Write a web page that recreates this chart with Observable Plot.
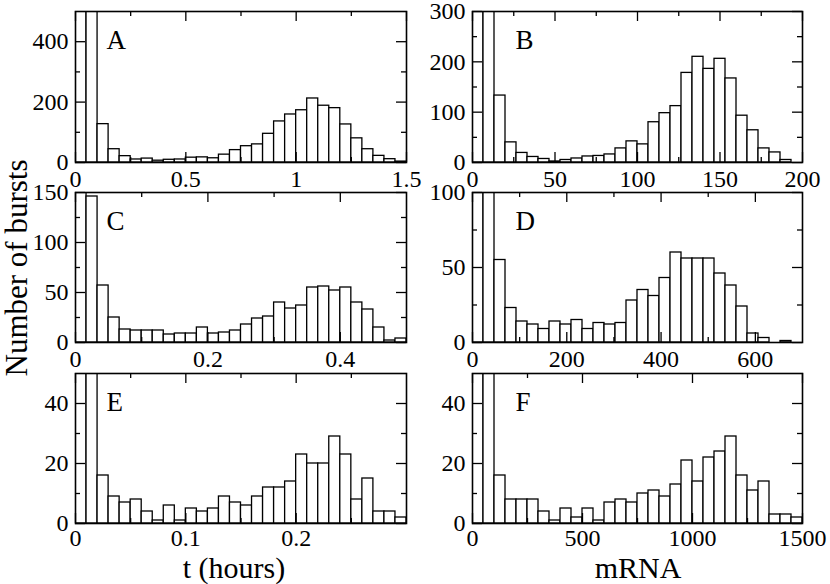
<!DOCTYPE html>
<html>
<head>
<meta charset="utf-8">
<script src="https://cdn.jsdelivr.net/npm/d3@7"></script>
<script src="https://cdn.jsdelivr.net/npm/@observablehq/plot@0.6"></script>
<style>
  body { margin: 0; background: white; }
  #wrap { position: relative; width: 830px; height: 584px; font-family: "Liberation Serif", "DejaVu Serif", serif; color: black; }
  .cell { position: absolute; }
  .title { position: absolute; font-size: 31px; line-height: 1; white-space: nowrap; transform: translate(-50%, -50%); }
  .xtitle { font-size: 30px; }
  .ytitle { transform: translate(-50%, -50%) rotate(-90deg); }
</style>
</head>
<body>
<div id="wrap"></div>
<script>
// Panel letters
const letters = ["A", "B", "C", "D", "E", "F"];

// Bin counts (30 equal bins from 0 to x max)
const countsA = [1500, 900, 127, 44, 21, 10, 13, 6, 9, 10, 16, 17, 14, 26, 41, 54, 60, 95, 136, 159, 173, 212, 188, 180, 126, 80, 44, 22, 11, 3];
const countsB = [800, 600, 133, 40, 19, 11, 7, 2, 5, 8, 12, 13, 16, 28, 42, 36, 80, 98, 112, 178, 210, 186, 206, 167, 93, 64, 28, 20, 5, 0];
const countsC = [400, 146, 57, 25, 13, 12, 12, 12, 8, 9, 9, 15, 9, 10, 12, 18, 24, 26, 40, 34, 37, 55, 56, 52, 55, 40, 33, 15, 2, 4];
const countsD = [300, 200, 55, 23, 14, 12, 9, 14, 12, 15, 9, 13, 12, 13, 28, 35, 31, 43, 60, 56, 56, 56, 46, 38, 24, 6, 3, 0, 1, 0];
const countsE = [150, 100, 16, 9, 7, 8, 4, 1, 6, 1, 5, 4, 5, 9, 7, 6, 9, 12, 12, 14, 23, 20, 20, 29, 23, 8, 15, 4, 4, 2];
const countsF = [150, 100, 16, 8, 8, 8, 4, 1, 5, 2, 5, 1, 7, 8, 7, 10, 11, 9, 13, 21, 14, 22, 24, 29, 16, 11, 14, 3, 3, 2];

// Axis extents
const xMaxes = [1.5, 200, 0.5, 700, 0.3, 1500];
const yMaxes = [500, 300, 150, 100, 50, 50];

// Tick values (labelled major ticks and minor ticks)
const xTicksA = [0, 0.5, 1, 1.5],   xMinorA = [0.25, 0.75, 1.25];
const xTicksB = [0, 50, 100, 150, 200], xMinorB = [25, 75, 125, 175];
const xTicksC = [0, 0.2, 0.4],      xMinorC = [0.1, 0.3];
const xTicksD = [0, 200, 400, 600], xMinorD = [100, 300, 500];
const xTicksE = [0, 0.1, 0.2],      xMinorE = [0.05, 0.15, 0.25];
const xTicksF = [0, 500, 1000, 1500], xMinorF = [250, 750, 1250];
const yTicksA = [0, 200, 400],      yMinorA = [100, 300];
const yTicksB = [0, 100, 200, 300], yMinorB = [50, 150, 250];
const yTicksC = [0, 50, 100, 150],  yMinorC = [25, 75, 125];
const yTicksD = [0, 50, 100],       yMinorD = [25, 75];
const yTicksE = [0, 20, 40],        yMinorE = [10, 30];
const yTicksF = [0, 20, 40],        yMinorF = [10, 30];

const xTitles = ["t (hours)", "mRNA"];
const yTitle = "Number of bursts";

const panels = [
  {counts: countsA, xTicks: xTicksA, xMinor: xMinorA, yTicks: yTicksA, yMinor: yMinorA},
  {counts: countsB, xTicks: xTicksB, xMinor: xMinorB, yTicks: yTicksB, yMinor: yMinorB},
  {counts: countsC, xTicks: xTicksC, xMinor: xMinorC, yTicks: yTicksC, yMinor: yMinorC},
  {counts: countsD, xTicks: xTicksD, xMinor: xMinorD, yTicks: yTicksD, yMinor: yMinorD},
  {counts: countsE, xTicks: xTicksE, xMinor: xMinorE, yTicks: yTicksE, yMinor: yMinorE},
  {counts: countsF, xTicks: xTicksF, xMinor: xMinorF, yTicks: yTicksF, yMinor: yMinorF}
];

const W = 415, H = 190;
const colM = [{l: 75, r: 9}, {l: 57, r: 28}];
const rowM = [{t: 11, b: 28, top: 0, pad: 7}, {t: 12, b: 28, top: 180, pad: 7}, {t: 13, b: 27, top: 360, pad: 5}];
const wrap = document.getElementById("wrap");
const FONT = "'Liberation Serif', 'DejaVu Serif', serif";

panels.forEach((p, i) => {
  const col = i % 2, row = Math.floor(i / 2);
  const m = colM[col], r = rowM[row];
  const fw = W - m.l - m.r, fh = H - r.t - r.b;
  const xMax = xMaxes[i], yMax = yMaxes[i];
  const bw = xMax / p.counts.length;
  const bins = p.counts.map((c, k) => ({x1: k * bw, x2: (k + 1) * bw, y: c}));
  const major = 10, minor = 5, sw = 1.3;
  const chart = Plot.plot({
    width: W, height: H,
    marginLeft: m.l, marginRight: m.r, marginTop: r.t, marginBottom: r.b,
    x: {domain: [0, xMax]},
    y: {domain: [0, yMax]},
    style: {fontFamily: FONT, fontSize: "24px", background: "transparent", overflow: "visible", color: "black"},
    marks: [
      Plot.rectY(bins, {x1: "x1", x2: "x2", y: "y", fill: "white", stroke: "black", strokeWidth: sw, clip: true}),
      Plot.ruleX(p.xTicks, {x: d => d, insetTop: fh - major, stroke: "black", strokeWidth: sw}),
      Plot.ruleX(p.xTicks, {x: d => d, insetBottom: fh - major, stroke: "black", strokeWidth: sw}),
      Plot.ruleX(p.xMinor, {x: d => d, insetTop: fh - minor, stroke: "black", strokeWidth: sw}),
      Plot.ruleX(p.xMinor, {x: d => d, insetBottom: fh - minor, stroke: "black", strokeWidth: sw}),
      Plot.ruleY(p.yTicks, {y: d => d, insetRight: fw - major, stroke: "black", strokeWidth: sw}),
      Plot.ruleY(p.yTicks, {y: d => d, insetLeft: fw - major, stroke: "black", strokeWidth: sw}),
      Plot.ruleY(p.yMinor, {y: d => d, insetRight: fw - minor, stroke: "black", strokeWidth: sw}),
      Plot.ruleY(p.yMinor, {y: d => d, insetLeft: fw - minor, stroke: "black", strokeWidth: sw}),
      Plot.frame({stroke: "black", strokeWidth: 1.6}),
      Plot.axisX({ticks: p.xTicks, tickSize: 0, tickPadding: r.pad, tickFormat: d => String(d), fontSize: 24, label: null}),
      Plot.axisY({ticks: p.yTicks, tickSize: 0, tickPadding: 7, tickFormat: d => String(d), fontSize: 24, label: null}),
      Plot.text([letters[i]], {text: d => d, frameAnchor: "top-left", textAnchor: "start", lineAnchor: "top", dx: col === 0 ? 31 : 43, dy: 18, fontSize: 27})
    ]
  });
  const div = document.createElement("div");
  div.className = "cell";
  div.style.left = (col * W) + "px";
  div.style.top = r.top + "px";
  div.appendChild(chart);
  wrap.appendChild(div);
});

function addTitle(text, x, y, cls) {
  const d = document.createElement("div");
  d.className = "title " + cls;
  d.style.left = x + "px";
  d.style.top = y + "px";
  d.textContent = text;
  wrap.appendChild(d);
}
addTitle(xTitles[0], 234, 568, "xtitle");
addTitle(xTitles[1], 638, 568, "xtitle");
addTitle(yTitle, 16, 268, "ytitle");
</script>
</body>
</html>
